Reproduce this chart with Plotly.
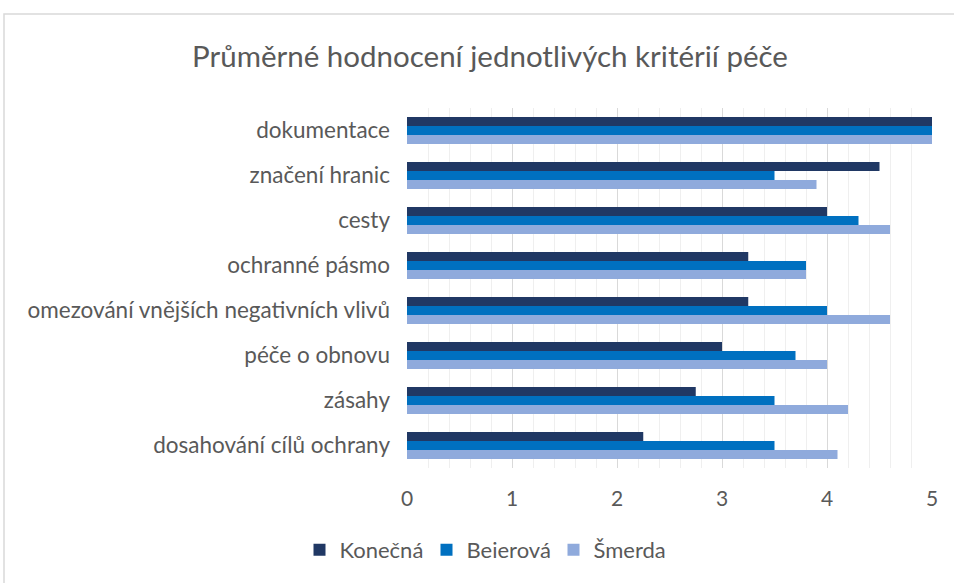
import plotly.graph_objects as go

categories = ["dokumentace", "značení hranic", "cesty", "ochranné pásmo",
              "omezování vnějších negativních vlivů", "péče o obnovu", "zásahy",
              "dosahování cílů ochrany"]
konecna = [5, 4.5, 4.0, 3.25, 3.25, 3.0, 2.75, 2.25]
beierova = [5, 3.5, 4.3, 3.8, 4.0, 3.7, 3.5, 3.5]
smerda = [5, 3.9, 4.6, 3.8, 4.6, 4.0, 4.2, 4.1]
series_names = ["Konečná", "Beierová", "Šmerda"]
colors = ["#203864", "#0070C0", "#8FAADC"]
x_ticks = [0, 1, 2, 3, 4, 5]

fig = go.Figure()
for name, vals, col in zip(series_names, [konecna, beierova, smerda], colors):
    fig.add_trace(go.Bar(y=categories, x=vals, name=name, orientation="h",
                         marker=dict(color=col, line=dict(width=0))))

L, R, T, B = 407, 22, 108, 115
W, H = 954, 583
pw, ph = W - L - R, H - T - B

fig.update_layout(
    width=W, height=H,
    margin=dict(l=L, r=R, t=T, b=B, autoexpand=False),
    paper_bgcolor="white", plot_bgcolor="white",
    barmode="group", bargap=0.4, bargroupgap=0,
    font=dict(family="Lato, Open Sans, sans-serif", color="#595959", size=21),
    title=dict(text="Průměrné hodnocení jednotlivých kritérií péče",
               x=490 / W, xref="container", xanchor="center",
               y=1 - 57 / H, yref="container", yanchor="middle",
               font=dict(size=29.5, color="#595959")),
    legend=dict(orientation="h", x=(490 - L) / pw, xanchor="center",
                y=-(550 - (H - B)) / ph, yanchor="middle", traceorder="normal",
                font=dict(size=22, color="#595959"), itemwidth=30,
                entrywidth=82),
    xaxis=dict(range=[0, 5], tickvals=x_ticks, showgrid=True, gridcolor="#D9D9D9",
               gridwidth=1, zeroline=False, showline=False, ticks="",
               automargin=False, ticklabelstandoff=16,
               tickfont=dict(size=21, color="#595959"),
               minor=dict(dtick=0.2, showgrid=True, gridcolor="#EFEFEF", gridwidth=1)),
    yaxis=dict(autorange="reversed", showgrid=False, ticks="", showline=False,
               automargin=False, ticklabelstandoff=16,
               tickfont=dict(size=22.5, color="#595959")),
    shapes=[dict(type="rect", xref="paper", yref="paper",
                 x0=(4 - L) / pw, x1=(960 - L) / pw,
                 y0=-(590 - (H - B)) / ph, y1=1 + (T - 14) / ph,
                 line=dict(color="#D9D9D9", width=1.5), fillcolor="rgba(0,0,0,0)",
                 layer="below")],
)

fig.write_html("out.html", config={"displayModeBar": False},
               post_script="document.body.style.margin='0';document.body.style.overflow='hidden';")
